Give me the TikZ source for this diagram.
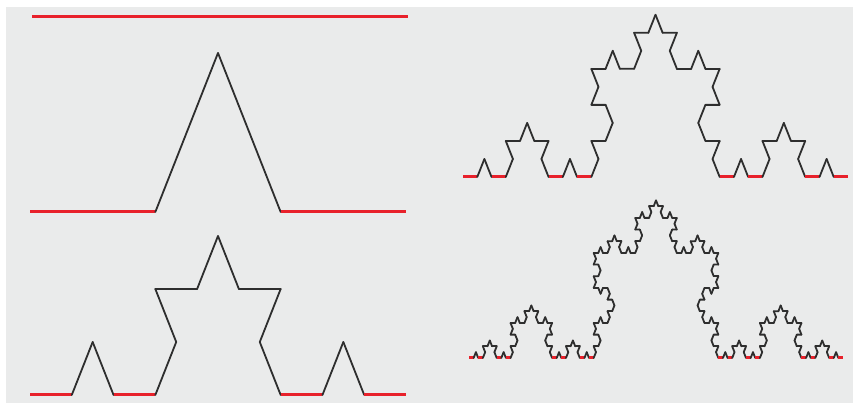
\documentclass[tikz,border=0pt]{standalone}
\usepackage{tikz}
\definecolor{bggray}{HTML}{EAEBEB}
\definecolor{kochred}{HTML}{E8212B}
\definecolor{kochblack}{HTML}{2E2E2E}
\tikzset{
  redseg/.style={draw=kochred, line width=3pt},
  blackseg/.style={draw=kochblack, line width=1.8pt, line cap=round, line join=round},
}
\newcommand\kochdraw[4]{%
  \pgfmathparse{((abs(#2)+abs(#4))<0.01) ? 1 : 0}%
  \ifdim\pgfmathresult pt>0.5pt
    \draw[redseg] (#1,#2) -- (#3,#4);%
  \else
    \draw[blackseg] (#1,#2) -- (#3,#4);%
  \fi}
\newcommand\kochseg[5]{%
  \begingroup
  \ifnum#1=0\relax
    \kochdraw{#2}{#3}{#4}{#5}%
  \else
    \pgfmathsetmacro\kdx{(#4-#2)/3}%
    \pgfmathsetmacro\kdy{(#5-#3)/3}%
    \pgfmathsetmacro\kbx{#2+\kdx}%
    \pgfmathsetmacro\kby{#3+\kdy}%
    \pgfmathsetmacro\kex{#2+2*\kdx}%
    \pgfmathsetmacro\key{#3+2*\kdy}%
    \pgfmathsetmacro\kcx{\kbx+0.5*\kdx-0.8660254*\kdy}%
    \pgfmathsetmacro\kcy{\kby+0.8660254*\kdx+0.5*\kdy}%
    \edef\knext{%
      \noexpand\kochseg{\the\numexpr#1-1\relax}{#2}{#3}{\kbx}{\kby}%
      \noexpand\kochseg{\the\numexpr#1-1\relax}{\kbx}{\kby}{\kcx}{\kcy}%
      \noexpand\kochseg{\the\numexpr#1-1\relax}{\kcx}{\kcy}{\kex}{\key}%
      \noexpand\kochseg{\the\numexpr#1-1\relax}{\kex}{\key}{#4}{#5}}%
    \knext
  \fi
  \endgroup}
\begin{document}
\begin{tikzpicture}[x=1pt,y=1pt]
  \useasboundingbox (0,0) rectangle (853,403);
  \fill[white] (0,0) rectangle (853,403);
  \fill[bggray] (6,0) rectangle (853,396);
  % level 0
  \begin{scope}[shift={(32pt,386pt)}, x=1pt, y=1.465pt]
    \kochseg{0}{0}{0}{376}{0}
  \end{scope}
  % level 1
  \begin{scope}[shift={(30pt,191pt)}, x=1pt, y=1.465pt]
    \kochseg{1}{0}{0}{376}{0}
  \end{scope}
  % level 2
  \begin{scope}[shift={(30pt,8pt)}, x=1pt, y=1.465pt]
    \kochseg{2}{0}{0}{376}{0}
  \end{scope}
  % level 3
  \begin{scope}[shift={(463pt,226pt)}, x=1pt, y=1.46pt]
    \kochseg{3}{0}{0}{385}{0}
  \end{scope}
  % level 4
  \begin{scope}[shift={(469pt,45pt)}, x=1pt, y=1.46pt]
    \kochseg{4}{0}{0}{374}{0}
  \end{scope}
\end{tikzpicture}
\end{document}
